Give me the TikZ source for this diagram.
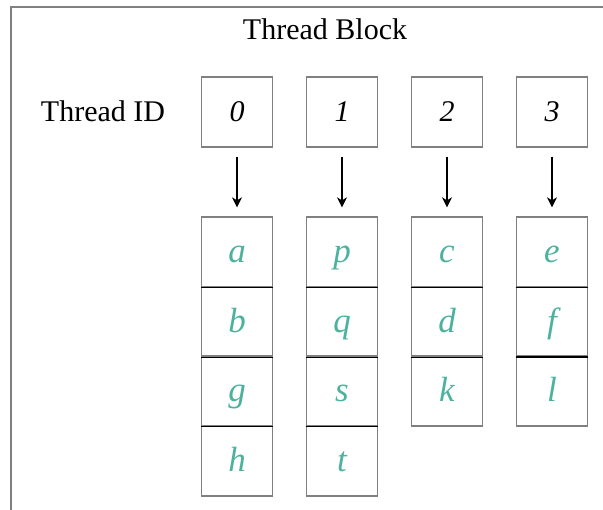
\documentclass[tikz,border=0pt]{standalone}
\usepackage{fontspec}
\setmainfont{Liberation Serif}
\usetikzlibrary{arrows.meta}
\definecolor{cellink}{RGB}{76,178,158}
\definecolor{edgegray}{RGB}{128,128,128}
\tikzset{
  framestroke/.style={draw=edgegray, line width=1.3pt},
  idbox/.style={draw=edgegray, line width=1.3pt, minimum width=71pt, minimum height=70pt,
    inner sep=0pt, text height=20pt, text depth=0pt, font=\fontsize{30}{36}\selectfont\itshape},
  cell/.style={draw=edgegray, line width=1.3pt, minimum width=71pt, minimum height=70pt,
    inner sep=0pt, text height=22pt, text depth=0pt, text=cellink, font=\fontsize{35}{40}\selectfont\itshape},
  divider/.style={draw=black, line width=0.8pt},
  heavydivider/.style={draw=black, line width=1.6pt},
  maparrow/.style={-{Stealth[length=10pt,width=10pt,inset=3pt]}, line width=1.4pt,
    shorten <=9pt, shorten >=9pt},
  label/.style={inner sep=0pt, text height=20pt, text depth=0pt, font=\fontsize{30}{36}\selectfont}
}
\begin{document}
\begin{tikzpicture}[x=1pt,y=-1pt]
\useasboundingbox (0,0) rectangle (603,510);
% open frame of the thread block
\draw[framestroke] (11,512) -- (11,7) -- (605,7);
\node[label] (title) at (325,30) {Thread Block};
\node[label] (tidlabel) at (103,112) {Thread ID};

% thread id boxes
\node[idbox] (t0) at (237,112) {0};
\node[idbox] (t1) at (342,112) {1};
\node[idbox] (t2) at (447,112) {2};
\node[idbox] (t3) at (552,112) {3};

% column 0
\node[cell] (a) at (237,252) {a};
\node[cell] (b) at (237,321.5) {b};
\node[cell] (g) at (237,391) {g};
\node[cell] (h) at (237,461) {h};
% column 1
\node[cell] (p) at (342,252) {p};
\node[cell] (q) at (342,321.5) {q};
\node[cell] (s) at (342,391) {s};
\node[cell] (t) at (342,461) {t};
% column 2
\node[cell] (c) at (447,252) {c};
\node[cell] (d) at (447,321.5) {d};
\node[cell] (k) at (447,391) {k};
% column 3
\node[cell] (e) at (552,252) {e};
\node[cell] (f) at (552,321.5) {f};
\node[cell] (l) at (552,391) {l};

% inner separators
\foreach \u in {a,b,g,p,q,s,c,d,e}
  \draw[divider] (\u.south west) -- (\u.south east);
\draw[heavydivider] (f.south west) -- (f.south east);

% mapping arrows
\draw[maparrow] (t0) -- (a);
\draw[maparrow] (t1) -- (p);
\draw[maparrow] (t2) -- (c);
\draw[maparrow] (t3) -- (e);
\end{tikzpicture}
\end{document}
